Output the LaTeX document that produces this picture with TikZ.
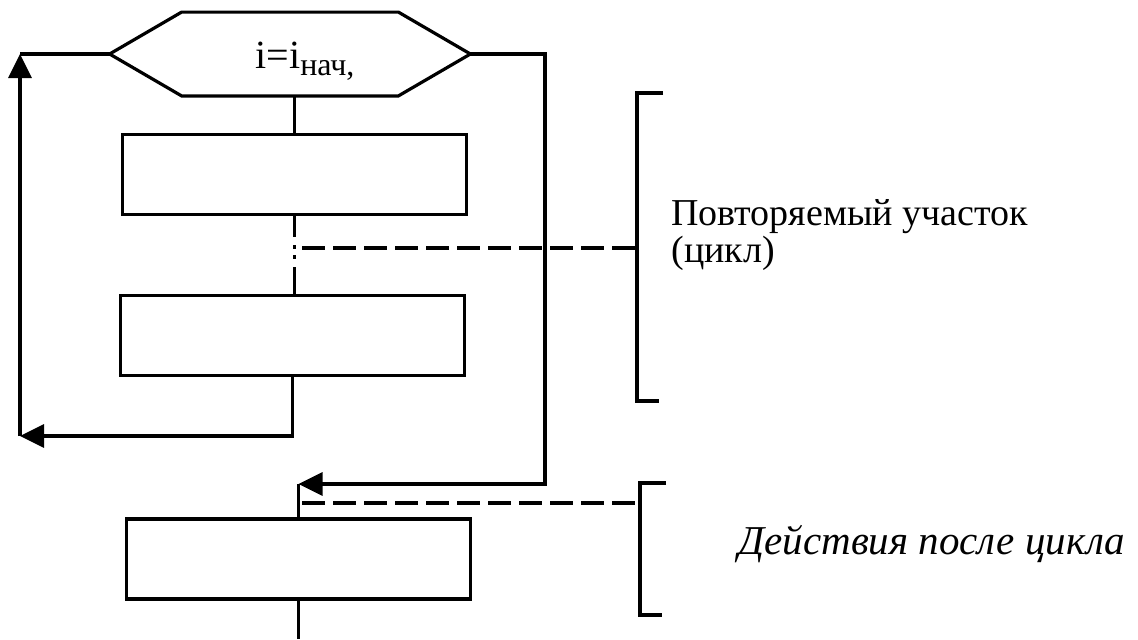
\documentclass[tikz,border=0pt]{standalone}
\usepackage{fontspec}
\setmainfont{Liberation Serif}
\usetikzlibrary{arrows.meta}

\tikzset{
  line/.style={line width=1.6pt},
  block/.style={draw, line width=1.6pt, minimum width=172pt, minimum height=40pt, inner sep=0pt},
  flow/.style={line width=1.6pt, -{Triangle[length=12pt,width=11.5pt]}},
  guide/.style={line width=1.6pt, dash pattern=on 11.5pt off 4pt},
  note/.style={font=\fontsize{19}{17}\selectfont, align=left, inner sep=0pt}
}

\begin{document}
\begin{tikzpicture}[x=0.5pt, y=-0.5pt]
  \useasboundingbox (0,0) rectangle (1138,639);
  % loop head
  \node[minimum width=180pt, minimum height=41.5pt, inner sep=0pt, text height=14pt, text depth=0pt,
    font=\fontsize{20}{22}\selectfont]
    (init) at (290,54) {\hspace*{15pt}i=i\raisebox{-3.5pt}{\fontsize{16}{16}\selectfont нач,}};
  \draw[line] (init.west) -- ([xshift=36pt]init.north west) -- ([xshift=-36pt]init.north east)
    -- (init.east) -- ([xshift=-36pt]init.south east) -- ([xshift=36pt]init.south west) -- cycle;
  % body of the loop
  \node[block] (body1) at (294.5,174.5) {};
  \node[block] (body2) at (292.5,335.5) {};
  \node[block] (after) at (298.5,559) {};
  \draw[line] (body1.north |- init.south) -- (body1.north);
  \draw[line, dash pattern=on 10.5pt off 4pt on 2pt off 3pt on 2pt off 4pt on 14pt off 0pt]
    (body1.south) -- (body1.south |- body2.north);
  % back to the head
  \coordinate (lb) at (20,436);
  \coordinate (lt) at (lb |- init.west);
  \draw[flow] (body2.south) |- (lb);
  \draw[flow] (lb) -- (lt);
  \draw[line] (lt) -- (init.west);
  % leaving the loop
  \coordinate (rt) at (545,54);
  \coordinate (join) at (after.north |- 0,484);
  \coordinate (exit) at (after.south |- 0,639);
  \draw[flow] (init.east) -- (rt) |- (join);
  \draw[line] (join) -- (after.north);
  \draw[line] (after.south) -- (exit);
  % brackets
  \foreach \bx/\btop/\bbot/\gy in {637/93/401/248, 640/483/615/503}
   {
    \draw[line] (\bx+26,\btop) -- (\bx,\btop) -- (\bx,\bbot) -- (\bx+22,\bbot);
    \draw[guide] (302,\gy) -- (\bx,\gy);
   }
  \node[note, anchor=base west] (lbloop) at (671,262) {Повторяемый участок\\(цикл)};
  \node[note, anchor=base west, font=\fontsize{20.5}{17}\selectfont\itshape]
    (lbafter) at (738,554) {Действия после цикла};
\end{tikzpicture}
\end{document}
